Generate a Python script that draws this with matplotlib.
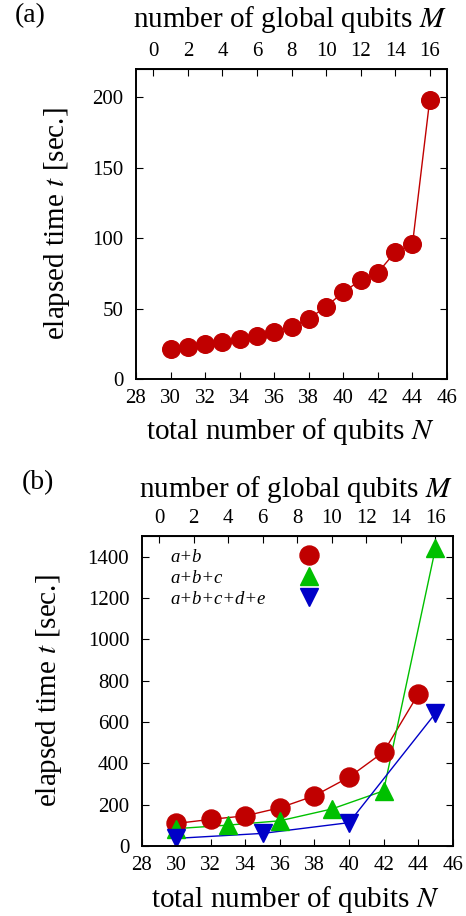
import numpy as np
import matplotlib
matplotlib.use('Agg')
import matplotlib.pyplot as plt
from matplotlib.lines import Line2D

plt.rcParams['font.family'] = ['Liberation Serif', 'DejaVu Serif']
plt.rcParams['mathtext.fontset'] = 'stix'

# (a) elapsed time vs total number of qubits
n_a = [30, 31, 32, 33, 34, 35, 36, 37, 38, 39, 40, 41, 42, 43, 44, 45]
t_a = [21.2, 22.4, 24.8, 26.4, 28.3, 30.7, 33.5, 37.0, 42.9, 51.2,
       61.8, 70.0, 75.5, 90.1, 95.5, 198.1]

# (b) three combinations
n_ab = [30, 32, 34, 36, 38, 40, 42, 44]
t_ab = [109, 129, 146, 185, 243, 333, 455, 734]
n_abc = [30, 33, 36, 39, 42, 45]
t_abc = [84, 101, 122, 179, 267, 1440]
n_abcde = [30, 35, 40, 45]
t_abcde = [37, 61, 113, 642]
labels_b = ['a+b', 'a+b+c', 'a+b+c+d+e']

RED = '#c00000'
GREEN = '#00c000'
BLUE = '#0000c8'

W, H = 466, 916
fig = plt.figure(figsize=(W / 100, H / 100), dpi=100)


def px_axes(left, top, right, bottom):
    return fig.add_axes([left / W, 1 - bottom / H, (right - left) / W, (bottom - top) / H])


def style(ax, yticks, top_y, bot_y, ylab_x):
    ax.set_xlim(28, 46)
    ax.set_xticks(np.arange(28, 47, 2))
    ax.set_yticks(yticks)
    for s in ax.spines.values():
        s.set_linewidth(1.4)
    ax.tick_params(axis='both', which='major', direction='in', length=5, width=0.8,
                   labelsize=15, top=False, right=True)
    ax.tick_params(axis='x', pad=7)
    ax.tick_params(axis='y', pad=9)
    sec = ax.secondary_xaxis('top', functions=(lambda n: n - 29, lambda m: m + 29))
    sec.set_xticks(np.arange(0, 17, 2))
    sec.tick_params(direction='in', length=5, width=0.8, labelsize=15, pad=6)
    sec.set_xlabel('number of global qubits $M$', fontsize=21)
    sec.xaxis.set_label_coords(0.495, top_y, transform=ax.transAxes)
    sec.xaxis.label.set_va('center')
    ax.set_xlabel('total number of qubits $N$', fontsize=21)
    ax.xaxis.set_label_coords(0.495, bot_y)
    ax.xaxis.label.set_va('center')
    ax.set_ylabel('elapsed time $t$ [sec.]', fontsize=21)
    ax.yaxis.set_label_coords(ylab_x, 0.5)
    ax.yaxis.label.set_va('center')
    return sec


# panel (a)
ax1 = px_axes(136, 69, 447, 379)
ax1.plot(n_a, t_a, '-', color=RED, lw=1.0)
ax1.plot(n_a, t_a, 'o', color=RED, ms=12.7, mec=RED)
ax1.set_ylim(0, 220)
style(ax1, np.arange(0, 201, 50), 1.16, -0.168, -0.254)
fig.text(30 / W, 1 - 16 / H, '(a)', fontsize=20, ha='center', va='center')

# panel (b)
ax2 = px_axes(141.7, 536, 452.7, 846)
ax2.plot(n_ab, t_ab, '-', color=RED, lw=1.0)
ax2.plot(n_abc, t_abc, '-', color=GREEN, lw=1.0)
ax2.plot(n_abcde, t_abcde, '-', color=BLUE, lw=1.0)
ax2.plot(n_ab, t_ab, 'o', color=RED, ms=13.7, mec=RED)
ax2.plot(n_abc, t_abc, '^', color=GREEN, ms=13, mec=GREEN)
ax2.plot(n_abcde, t_abcde, 'v', color=BLUE, ms=13, mec=BLUE)
ax2.set_ylim(0, 1500)
style(ax2, np.arange(0, 1401, 200), 1.15, -0.174, -0.298)
fig.text(38 / W, 1 - 483 / H, '(b)', fontsize=20, ha='center', va='center')

# key: text column on the left, markers on the right (gnuplot style)
leg_prop = {'family': ['Liberation Serif'], 'style': 'italic', 'size': 13.5}
blank = [Line2D([], [], ls='none') for _ in labels_b]
leg_txt = ax2.legend(blank, labels_b, loc='upper left', bbox_to_anchor=(0.091, 0.960),
                     frameon=False, handlelength=0, handletextpad=0, borderpad=0,
                     borderaxespad=0, labelspacing=0.21, prop=leg_prop)
ax2.add_artist(leg_txt)
handles = [Line2D([], [], ls='none', marker='o', color=RED, ms=13.7),
           Line2D([], [], ls='none', marker='^', color=GREEN, ms=13),
           Line2D([], [], ls='none', marker='v', color=BLUE, ms=13)]
ax2.legend(handles, ['', '', ''], loc='upper center', bbox_to_anchor=(0.538, 0.960),
           frameon=False, handlelength=1.0, handletextpad=0, borderpad=0,
           borderaxespad=0, labelspacing=0.21, prop=leg_prop)

fig.savefig('out.png', dpi=100)
